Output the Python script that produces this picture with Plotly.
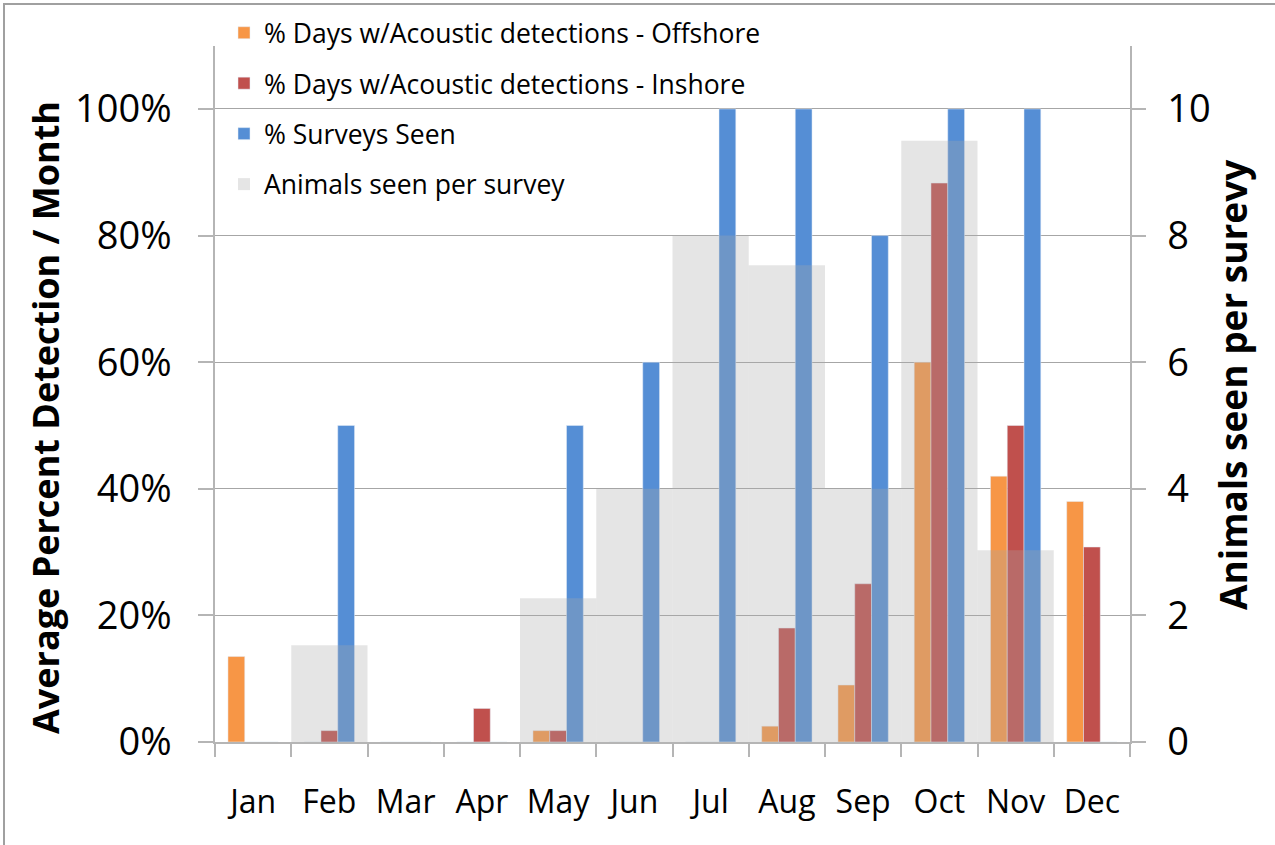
import plotly.graph_objects as go

months = ["Jan", "Feb", "Mar", "Apr", "May", "Jun", "Jul", "Aug", "Sep", "Oct", "Nov", "Dec"]
offshore = [0.135, 0, 0, 0, 0.018, 0, 0, 0.025, 0.09, 0.60, 0.42, 0.38]
inshore = [0, 0.018, 0, 0.053, 0.018, 0, 0, 0.18, 0.25, 0.883, 0.50, 0.308]
surveys_seen = [0, 0.50, 0, 0, 0.50, 0.60, 1.00, 1.00, 0.80, 1.00, 1.00, 0]
animals_per_survey = [0, 1.53, 0, 0, 2.27, 4.0, 8.0, 7.53, 4.0, 9.5, 3.03, 0]

names = [
    "% Days w/Acoustic detections - Offshore",
    "% Days w/Acoustic detections - Inshore",
    "% Surveys Seen",
    "Animals seen per survey",
]
left_title = "Average Percent Detection / Month"
right_title = "Animals seen per surevy"

FONT = "'Open Sans', Lato, sans-serif"
GRID = "#a6a6a6"
AXIS = "#b5b5b5"

# plot area in pixels
L, R, T, B = 215, 1130, 46, 742
PW, PH = R - L, B - T

def px(x):
    return (x - L) / PW

def py(y):
    return (B - y) / PH

fig = go.Figure()
fig.add_trace(go.Bar(x=months, y=offshore, name=names[0], marker_color="#F79646",
                     width=0.22, offset=-0.33, legendgroup="a"))
fig.add_trace(go.Bar(x=months, y=inshore, name=names[1], marker_color="#C0504D",
                     width=0.22, offset=-0.11, legendgroup="b"))
fig.add_trace(go.Bar(x=months, y=surveys_seen, name=names[2], marker_color="#558ED5",
                     width=0.22, offset=0.11, legendgroup="c"))
fig.add_trace(go.Bar(x=months, y=animals_per_survey, name=names[3],
                     marker_color="rgba(168,168,168,0.3)", marker_line_width=0,
                     width=1.0, offset=-0.5, yaxis="y2", legendgroup="d"))

fig.update_layout(
    width=1275, height=845,
    paper_bgcolor="white", plot_bgcolor="white",
    margin=dict(l=L, r=1275 - R, t=T, b=845 - B, autoexpand=False),
    barmode="overlay",
    font=dict(family=FONT, color="black"),
    showlegend=True,
    legend=dict(
        x=px(224), y=py(9), xanchor="left", yanchor="top",
        bgcolor="rgba(0,0,0,0)", font=dict(size=26.5, family=FONT),
        tracegroupgap=13, traceorder="grouped",
    ),
    xaxis=dict(
        type="category", categoryorder="array", categoryarray=months,
        range=[-0.5, 11.5],
        showline=True, linecolor=AXIS, linewidth=1.5,
        ticks="outside", tickson="boundaries", ticklen=13, tickcolor=AXIS, tickwidth=1.5,
        tickfont=dict(size=32, family=FONT), ticklabelstandoff=31,
        showgrid=False, zeroline=False,
    ),
    yaxis=dict(
        range=[0, 1.0995], tickvals=[0, 0.2, 0.4, 0.6, 0.8, 1.0],
        tickformat=".0%",
        showgrid=True, gridcolor=GRID, gridwidth=1.2,
        showline=True, linecolor=AXIS, linewidth=1.5,
        ticks="outside", ticklen=15, tickcolor=AXIS, tickwidth=1.5,
        tickfont=dict(size=38, family=FONT), ticklabelstandoff=19,
        zeroline=False,
    ),
    yaxis2=dict(
        overlaying="y", side="right",
        range=[0, 10.995], tickvals=[0, 2, 4, 6, 8, 10],
        showgrid=False, zeroline=False,
        showline=True, linecolor=AXIS, linewidth=1.5,
        ticks="outside", ticklen=14, tickcolor=AXIS, tickwidth=1.5,
        tickfont=dict(size=38, family=FONT), ticklabelstandoff=14,
    ),
    annotations=[
        dict(text="<b>" + left_title + "</b>", xref="paper", yref="paper",
             x=px(45), y=py(418), xanchor="center", yanchor="middle",
             textangle=-90, showarrow=False, font=dict(size=36, family=FONT)),
        dict(text="<b>" + right_title + "</b>", xref="paper", yref="paper",
             x=px(1233), y=py(385), xanchor="center", yanchor="middle",
             textangle=-90, showarrow=False, font=dict(size=37, family=FONT)),
    ],
    shapes=[
        # legend box area: hides gridlines behind the legend but not the bars
        dict(type="rect", xref="paper", yref="paper",
             x0=px(226), x1=px(777), y0=py(205), y1=py(10),
             line=dict(width=0), fillcolor="white", layer="between"),
        dict(type="rect", xref="paper", yref="paper",
             x0=px(4), x1=px(1300), y0=py(880), y1=py(4),
             line=dict(color="#a0a0a0", width=2), fillcolor="rgba(0,0,0,0)", layer="below"),
    ],
)

fig.write_html("out.html", config={"displayModeBar": False},
               post_script="document.body.style.margin='0px';")
